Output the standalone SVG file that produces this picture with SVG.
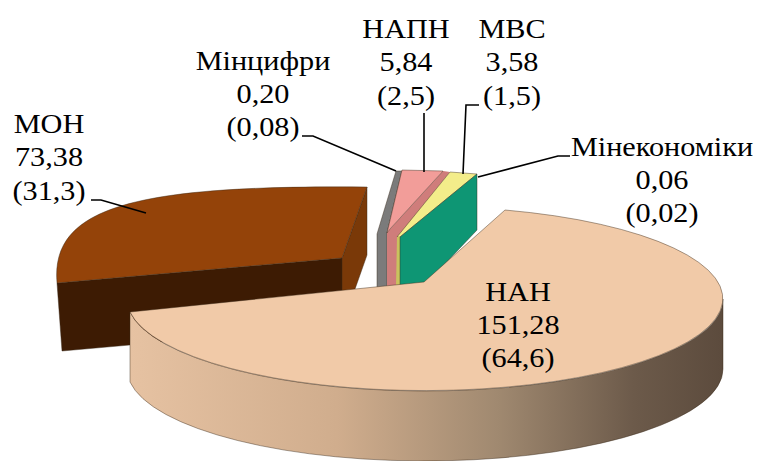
<svg xmlns="http://www.w3.org/2000/svg" width="758" height="461" viewBox="0 0 758 461">
<defs>
<linearGradient id="nanSide" gradientUnits="userSpaceOnUse" x1="130" y1="0" x2="723" y2="0">
<stop offset="0" stop-color="#e6c2a2"/>
<stop offset="0.35" stop-color="#d0ad8d"/>
<stop offset="0.62" stop-color="#a08970"/>
<stop offset="0.85" stop-color="#6c5a4a"/>
<stop offset="1" stop-color="#5c4b3d"/>
</linearGradient>
</defs>
<style>
text{font-family:"Liberation Serif","Times New Roman",serif;font-size:28px;fill:#000;text-anchor:middle}
.edge{stroke:#3a2a1a;stroke-opacity:.55;stroke-width:.8;stroke-linejoin:round}
.lead{fill:none;stroke:#000;stroke-width:1.6}
</style>
<rect width="758" height="461" fill="#fff"/>
<g id="node-mon">
<path class="edge" fill="#3d1b03" d="M57,283 L342,258 L345,326 L62,351 Z"/>
<path class="edge" fill="#7a3908" d="M367,187 L342,258 L342,326 L367,255 Z"/>
<path class="edge" fill="#944309" d="M57,283 C50,205 140,185 367,187 L342,258 Z"/>
<text transform="translate(49,133) scale(1.08,1)"><tspan x="0" y="0">МОН</tspan><tspan x="0" y="33.5">73,38</tspan><tspan x="0" y="67">(31,3)</tspan></text>
</g>
<g id="node-mincyfry">
<path class="edge" fill="#7b7b7b" d="M396,171 L402,171 L387,233 L387,290 L377,290 L377,234 Z"/>
<text transform="translate(263,70) scale(1.08,1)"><tspan x="0" y="0">Мінцифри</tspan><tspan x="0" y="33">0,20</tspan><tspan x="0" y="66">(0,08)</tspan></text>
</g>
<g id="node-napn">
<path fill="#cf7d7b" d="M443,171 L390,229 L387,233 L387,290 L398,290 L398,237 L450,172 Z"/>
<path fill="#f29d99" class="edge" d="M402,170 L443,171 L390,229 L387,233 Z"/>
<text transform="translate(406,38) scale(1.08,1)"><tspan x="0" y="0">НАПН</tspan><tspan x="0" y="33.5">5,84</tspan><tspan x="0" y="67">(2,5)</tspan></text>
</g>
<g id="node-mvs">
<path fill="#f3ed8a" class="edge" d="M450,172 L477,174 L400,237 L397,237 Z"/>
<path fill="#c9c25e" d="M397,237 L400,237 L401,286 L396,286 Z"/>
<text transform="translate(512,38) scale(1.08,1)"><tspan x="0" y="0">МВС</tspan><tspan x="0" y="33.5">3,58</tspan><tspan x="0" y="67">(1,5)</tspan></text>
</g>
<g id="node-minekonomiky">
<path fill="#0e9674" class="edge" d="M477,174 L400,237 L400,286 L424,286 L477,230 Z"/>
<text transform="translate(662,156) scale(1.08,1)"><tspan x="0" y="0">Мінекономіки</tspan><tspan x="0" y="33">0,06</tspan><tspan x="0" y="66">(0,02)</tspan></text>
</g>
<g id="node-nan">
<path fill="url(#nanSide)" class="edge" d="M130,312 A298,92 0 0 0 723,299 L723,369 A298,92 0 0 1 130,382 Z"/>
<path fill="#f1caa8" class="edge" d="M424,282 L130,312 A298,92 0 1 0 505,210 Z"/>
<text transform="translate(518,301) scale(1.08,1)"><tspan x="0" y="0">НАН</tspan><tspan x="0" y="33">151,28</tspan><tspan x="0" y="66">(64,6)</tspan></text>
</g>
<g id="connectors">
<polyline class="lead" points="91,200 101,200 146,213"/>
<polyline class="lead" points="302,136 313,136 396,171"/>
<polyline class="lead" points="424,113 424,172"/>
<polyline class="lead" points="479,105 466,105 463,174"/>
<polyline class="lead" points="570,156 558,156 478,177"/>
</g>
</svg>
